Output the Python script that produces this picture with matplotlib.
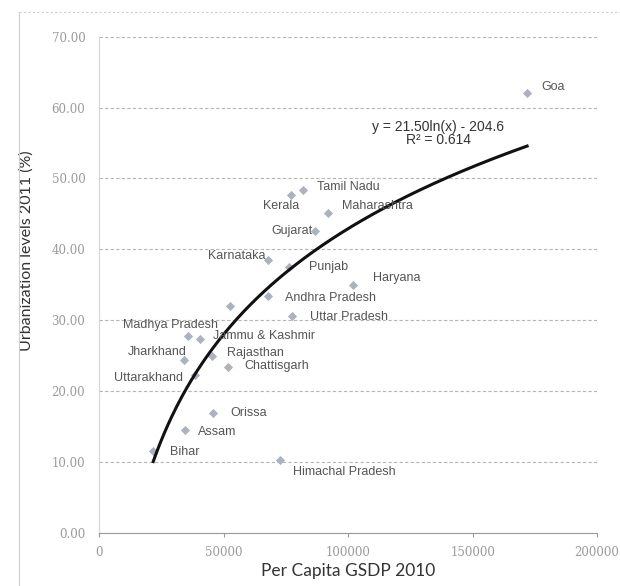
import numpy as np
from matplotlib import pyplot as plt
from matplotlib.lines import Line2D

# data
states = ['Goa', 'Tamil Nadu', 'Kerala', 'Maharashtra', 'Gujarat', 'Karnataka',
          'Punjab', 'Haryana', 'Andhra Pradesh', '', 'Uttar Pradesh',
          'Madhya Pradesh', 'Jammu & Kashmir', 'Jharkhand', 'Rajasthan',
          'Chattisgarh', 'Uttarakhand', 'Orissa', 'Assam', 'Bihar',
          'Himachal Pradesh']
gsdp = [171900, 81900, 77100, 92000, 86700, 67900, 76300, 102000, 67900, 52600,
        77500, 35700, 40600, 34100, 45400, 51800, 38300, 45800, 34500, 21700, 72700]
urban = [62.1, 48.4, 47.7, 45.1, 42.6, 38.5, 37.5, 35.0, 33.4, 32.0, 30.6,
         27.8, 27.4, 24.4, 25.0, 23.4, 22.3, 16.9, 14.5, 11.6, 10.3]

fit_a, fit_b = 21.50, -204.6
r2 = 0.614

# label offsets in points (dx, dy, ha)
label_pos = {
    'Goa': (10, 4, 'left'),
    'Tamil Nadu': (10, 2, 'left'),
    'Kerala': (-7, -8, 'center'),
    'Maharashtra': (10, 5, 'left'),
    'Gujarat': (-2, 0, 'right'),
    'Karnataka': (-2, 3, 'right'),
    'Punjab': (14, 0, 'left'),
    'Haryana': (14, 5, 'left'),
    'Andhra Pradesh': (12, -1, 'left'),
    'Uttar Pradesh': (13, -1, 'left'),
    'Madhya Pradesh': (-13, 8, 'center'),
    'Jammu & Kashmir': (9, 2, 'left'),
    'Jharkhand': (2, 6, 'right'),
    'Rajasthan': (11, 2, 'left'),
    'Chattisgarh': (12, 1, 'left'),
    'Uttarakhand': (-8, -2, 'right'),
    'Orissa': (12, 0, 'left'),
    'Assam': (9, -1, 'left'),
    'Bihar': (12, -1, 'left'),
    'Himachal Pradesh': (9, -9, 'left'),
}

lab_font = ['Liberation Sans Narrow', 'Liberation Sans', 'DejaVu Sans']
ax_font = ['Lato', 'DejaVu Sans']

fig = plt.figure(figsize=(6.2, 5.86), dpi=100)
ax = fig.add_axes([0.160, 0.0904, 0.803, 0.847])

ax.scatter(gsdp, urban, marker='D', s=22, color='#adb2bf', zorder=3, linewidths=0)

xs = np.linspace(min(gsdp), max(gsdp), 300)
ax.plot(xs, fit_a * np.log(xs) + fit_b, color='#111111', lw=2.2, zorder=4)

for s, x, y in zip(states, gsdp, urban):
    if not s:
        continue
    dx, dy, ha = label_pos[s]
    ax.annotate(s, (x, y), xytext=(dx, dy), textcoords='offset points',
                ha=ha, va='center', fontsize=9, color='#555555',
                family=lab_font, zorder=5)

ax.text(0.681, 0.819, 'y = %.2fln(x) - %.1f' % (fit_a, -fit_b), transform=ax.transAxes,
        ha='center', va='center', fontsize=10, color='#333333', family=lab_font)
ax.text(0.681, 0.792, 'R² = %.3f' % r2, transform=ax.transAxes,
        ha='center', va='center', fontsize=10, color='#333333', family=lab_font)

ax.set_xlim(0, 200000)
ax.set_ylim(0, 70)
ax.set_xticks([0, 50000, 100000, 150000, 200000])
ax.set_yticks(np.arange(0, 71, 10))
ax.set_yticklabels(['%.2f' % v for v in np.arange(0, 71, 10)])
ax.tick_params(axis='y', length=0, pad=10, labelsize=8.5, labelcolor='#9a9a9a')
ax.tick_params(axis='x', length=3, direction='out', color='#999999', pad=6,
               labelsize=8.5, labelcolor='#9a9a9a')
for lab in ax.get_xticklabels() + ax.get_yticklabels():
    lab.set_family(['DejaVu Serif'])

ax.grid(axis='y', color='#b5b5b5', ls=(0, (3, 2)), lw=0.8)
ax.set_axisbelow(True)
for sp in ['top', 'right']:
    ax.spines[sp].set_visible(False)
ax.spines['left'].set_color('#d6d6d6')
ax.spines['bottom'].set_color('#999999')

ax.set_xlabel('Per Capita GSDP 2010', fontsize=12.5, color='#333333',
              family=ax_font, labelpad=3)
ax.set_ylabel('Urbanization levels 2011 (%)', fontsize=11.5, color='#333333',
              family=ax_font)
ax.yaxis.set_label_coords(-0.1325, 0.569)

# faint border of the chart area
fig.add_artist(Line2D([0.03, 0.03], [0.0, 0.98], transform=fig.transFigure,
                      color='#cfcfcf', lw=0.8))
fig.add_artist(Line2D([0.03, 1.0], [0.98, 0.98], transform=fig.transFigure,
                      color='#cfcfcf', lw=0.8, ls=(0, (2, 2))))

fig.savefig('out.png', dpi=100)
